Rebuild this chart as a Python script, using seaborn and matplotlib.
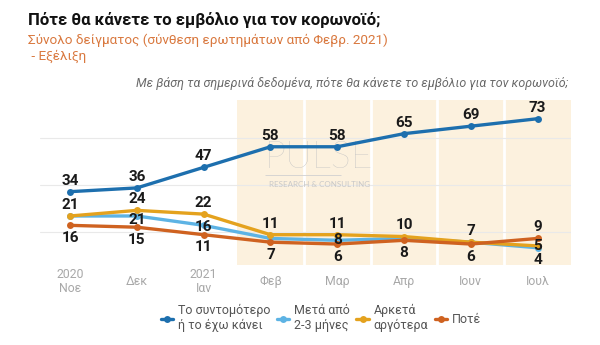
import matplotlib
matplotlib.use("Agg")
import matplotlib.pyplot as plt
import seaborn as sns
import pandas as pd

# --- data -------------------------------------------------------------
months = ["2020\nΝοε", "Δεκ", "2021\nΙαν", "Φεβ", "Μαρ", "Απρ", "Ιουν", "Ιουλ"]
series_names = ["Το συντομότερο\nή το έχω κάνει", "Μετά από\n2-3 μήνες",
                "Αρκετά\nαργότερα", "Ποτέ"]
asap = [34, 36, 47, 58, 58, 65, 69, 73]
after_2_3 = [21, 21, 16, 9, 8, 9, 7, 4]
much_later = [21, 24, 22, 11, 11, 10, 7, 5]
never = [16, 15, 11, 7, 6, 8, 6, 9]

title = "Πότε θα κάνετε το εμβόλιο για τον κορωνοϊό;"
subtitle = "Σύνολο δείγματος (σύνθεση ερωτημάτων από Φεβρ. 2021)\n - Εξέλιξη"
question = "Με βάση τα σημερινά δεδομένα, πότε θα κάνετε το εμβόλιο για τον κορωνοϊό;"

colors = ["#1d6fae", "#5db3e4", "#e4a21e", "#cf6220"]

sns.set_theme(style="white")
plt.rcParams["font.family"] = ["Roboto", "DejaVu Sans"]

rows = []
for name, vals in zip(series_names, [asap, after_2_3, much_later, never]):
    for m, v in zip(months, vals):
        rows.append({"month": m, "value": v, "series": name})
df = pd.DataFrame(rows)

fig = plt.figure(figsize=(6, 3.45), dpi=100)
ax = fig.add_axes([40 / 600, 1 - 265 / 345, 531 / 600, 165 / 345])

# shaded period Feb–Jul with white separators
ax.axvspan(2.5, 7.5, color="#fcf1de", zorder=0, lw=0)
for xv in [3.5, 4.5, 5.5, 6.5]:
    ax.axvline(xv, color="white", lw=2, zorder=0.5)
for yv in [12.5, 37.5, 62.5]:
    ax.axhline(yv, color="#e9e9e9", lw=0.8, zorder=0.6)

# watermark logo
ax.text(3.73, 46.7, "PULSE", ha="center", va="baseline", fontsize=27,
        color="#c2c2c2", family="Lato", fontweight="light", zorder=0.7)
ax.hlines(43, 2.92, 4.05, color="#d0d0d0", lw=0.6, zorder=0.7)
ax.text(3.73, 37.6, "RESEARCH & CONSULTING", ha="center", va="center", fontsize=5.8,
        color="#c8c8c8", family="Lato", zorder=0.7)

sns.lineplot(data=df, x="month", y="value", hue="series", hue_order=series_names,
             palette=colors, marker="o", markersize=5, markeredgewidth=0,
             linewidth=2.4, ax=ax, legend=True, zorder=3)

# value labels: offset (points) per series and point, None = no label
up, dn, mid = 8, -9, 0
offsets = {
    0: [up] * 8,
    1: [None, -3, -1, None, mid, None, None, dn],
    2: [up, up, up, up, up, up, up, mid],
    3: [dn, dn, dn, dn, dn, dn, dn, up],
}
for si, vals in enumerate([asap, after_2_3, much_later, never]):
    for xi, v in enumerate(vals):
        off = offsets[si][xi]
        if off is None:
            continue
        ax.annotate(str(v), (xi, v), xytext=(0, off), textcoords="offset points",
                    ha="center", va="center", fontsize=11, fontweight="bold",
                    color="#1a1a1a", zorder=5)

ax.set_xlim(-0.45, 7.5)
ax.set_ylim(-5.2, 83)
ax.set_xticks(range(len(months)))
ax.set_xticklabels(months, color="#a8a8a8", fontsize=8.8, linespacing=1.1)
plt.setp(ax.get_xticklabels(), va="center")
ax.tick_params(axis="x", length=0, pad=12)
ax.set_yticks([])
ax.set_xlabel("")
ax.set_ylabel("")
for s in ax.spines.values():
    s.set_visible(False)

handles, labels = ax.get_legend_handles_labels()
ax.get_legend().remove()
fig.legend(handles, labels, loc="center", bbox_to_anchor=(0.535, 0.078), ncol=4,
           frameon=False, fontsize=9, handlelength=1.0, handletextpad=0.4,
           columnspacing=0.5, labelcolor="#555555")

fig.text(28 / 600, 1 - 20 / 345, title, fontsize=12, fontweight="bold",
         color="#111111", va="center")
fig.text(28 / 600, 1 - 48 / 345, subtitle, fontsize=9.7, color="#d9783e",
         va="center", linespacing=1.25)
fig.text(568 / 600, 1 - 84 / 345, question, fontsize=9, style="italic",
         color="#6a6a6a", ha="right", va="center")

fig.savefig("out.png", dpi=100, facecolor="white")
